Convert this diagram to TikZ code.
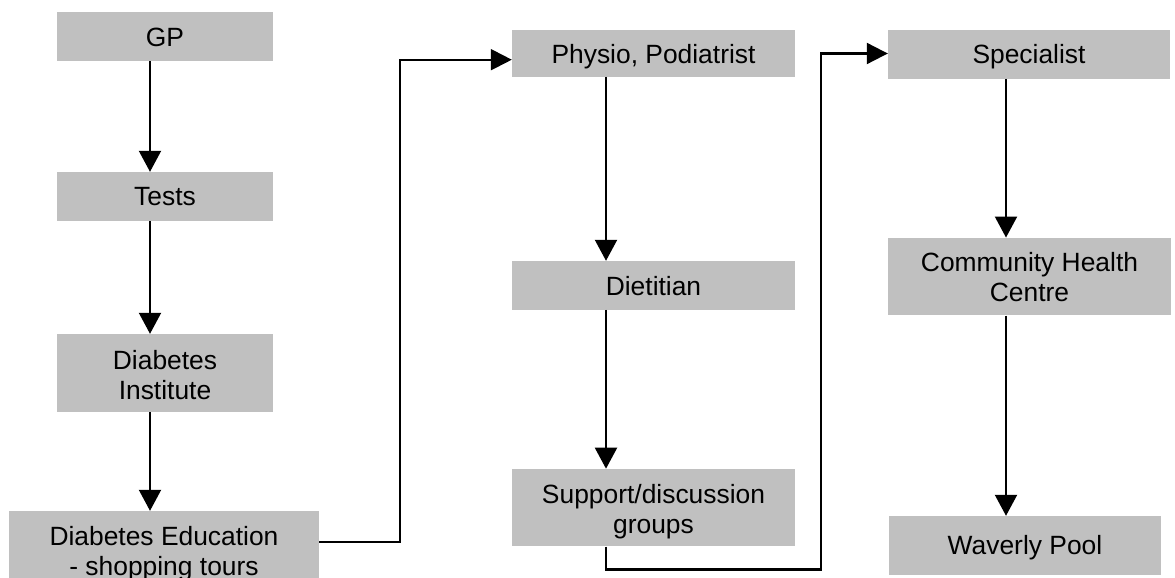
\documentclass[tikz,border=0pt]{standalone}
\usepackage{fontspec}
\setmainfont{Liberation Sans}
\usetikzlibrary{arrows.meta,calc}
\definecolor{boxgray}{HTML}{C0C0C0}
\begin{document}
\begin{tikzpicture}[x=1pt,y=-1pt,
  box/.style={fill=boxgray, inner sep=0pt, draw=none},
  lbl/.style={inner sep=0pt, align=center,
    font=\fontsize{26.4}{30}\selectfont},
  link/.style={line width=2.1pt, line join=miter},
  downarrow/.style={link, -{Triangle[length=21pt,width=22pt]}},
  sidearrow/.style={link, -{Triangle[length=21pt,width=21pt]}}]
  \path[use as bounding box] (0,0) rectangle (1175,578);
  \clip (0,0) rectangle (1175,578);
  \fill[white] (0,0) rectangle (1175,578);

  % guide lines for connectors
  \coordinate (colA) at (150,0);
  \coordinate (colB) at (606,0);
  \coordinate (colC) at (1006,0);
  \coordinate (jogA) at (400,0);
  \coordinate (jogB) at (821,0);
  \coordinate (lowB) at (0,569.5);

  % first column
  \node[box, minimum width=216pt, minimum height=49pt] (gp)    at (165,36.5) {};
  \node[box, minimum width=216pt, minimum height=49pt] (tests) at (165,196.5) {};
  \node[box, minimum width=216pt, minimum height=78pt] (inst)  at (165,373) {};
  \node[box, minimum width=310pt, minimum height=82pt] (edu)   at (164,552) {};

  % second column
  \node[box, minimum width=283pt, minimum height=47pt] (phys) at (653.5,53.1) {};
  \node[box, minimum width=283pt, minimum height=48.6pt] (diet) at (653.5,285.3) {};
  \node[box, minimum width=283pt, minimum height=77.4pt] (supp) at (653.5,507.6) {};

  % third column
  \node[box, minimum width=282pt, minimum height=48.3pt] (spec) at (1029,54.4) {};
  \node[box, minimum width=283pt, minimum height=77.7pt] (chc)  at (1029.5,276.6) {};
  \node[box, minimum width=272pt, minimum height=59pt] (pool) at (1025,545.5) {};

  % box captions
  \node[lbl] (gpText)    at ([yshift=-0.5pt]gp.center) {GP};
  \node[lbl] (testsText) at (tests.center) {Tests};
  \node[lbl] (instText)  at ([yshift=-2pt]inst.center) {Diabetes\\Institute};
  \node[lbl] (eduText)   at ([yshift=-1.3pt]edu.center) {Diabetes Education\\- shopping tours};
  \node[lbl] (physText)  at ([yshift=-3.3pt]phys.center) {Physio, Podiatrist};
  \node[lbl] (dietText)  at ([yshift=-0.9pt]diet.center) {Dietitian};
  \node[lbl] (suppText)  at ([yshift=-4pt]supp.center) {Support/discussion\\groups};
  \node[lbl] (specText)  at ([yshift=-2.5pt]spec.center) {Specialist};
  \node[lbl] (chcText)   at (chc.center) {Community Health\\Centre};
  \node[lbl] (poolText)  at ([yshift=-2pt]pool.center) {Waverly Pool};

  % vertical flow
  \draw[downarrow] (gp.south -| colA) -- (tests.north -| colA);
  \draw[downarrow] (tests.south -| colA) -- (inst.north -| colA);
  \draw[downarrow] (inst.south -| colA) -- (edu.north -| colA);
  \draw[downarrow] (phys.south -| colB) -- (diet.north -| colB);
  \draw[downarrow] (diet.south -| colB) -- (supp.north -| colB);
  \draw[downarrow] (spec.south -| colC) -- (chc.north -| colC);
  \draw[downarrow] (chc.south -| colC) -- (pool.north -| colC);

  % links between columns
  \draw[sidearrow] ([yshift=10pt]edu.east) -| ([yshift=-6.6pt]phys.west -| jogA) -- ([yshift=-6.6pt]phys.west);
  \draw[sidearrow] (supp.south -| colB) -- (colB |- lowB) -| ([yshift=0.9pt]spec.west -| jogB) -- ([yshift=0.9pt]spec.west);
\end{tikzpicture}
\end{document}
